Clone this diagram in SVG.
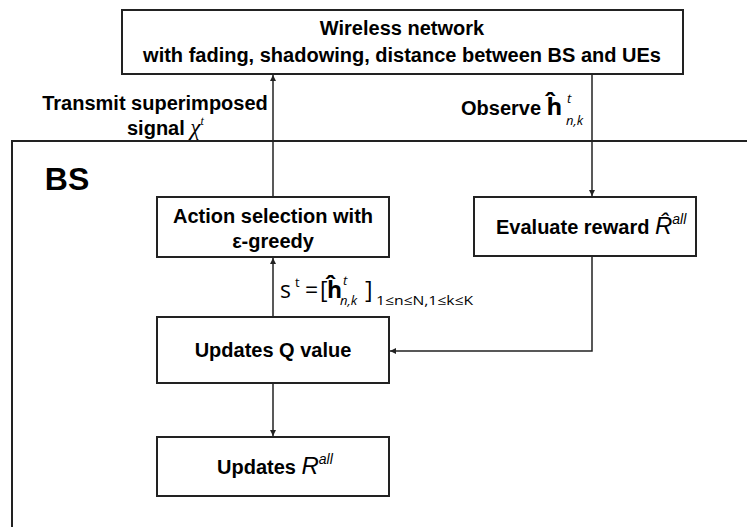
<svg xmlns="http://www.w3.org/2000/svg" width="747" height="527" viewBox="0 0 747 527">
<defs>
<style>
.box{fill:#fff;stroke:#222;stroke-width:2}
.ln{fill:none;stroke:#222;stroke-width:1.5}
.t{font-family:"Liberation Sans",Arial,sans-serif;font-weight:bold;fill:#000;text-anchor:middle}
.ts{font-family:"Liberation Sans",Arial,sans-serif;font-weight:bold;fill:#000;text-anchor:start}
.m{font-family:"Liberation Sans",Arial,sans-serif;font-style:italic;font-weight:normal}
.eq{font-family:"Open Sans","DejaVu Sans",sans-serif;fill:#000}
</style>
<marker id="ah" viewBox="0 0 10 10" refX="10" refY="5" markerWidth="6" markerHeight="6" orient="auto" markerUnits="userSpaceOnUse">
<path d="M0,0 L10,5 L0,10 z" fill="#222"/>
</marker>
</defs>
<rect width="747" height="527" fill="#fff"/>
<g id="bs">
<path d="M12,527 L12,141 L747,141" class="ln" style="stroke-width:2"/>
<text x="67" y="190" class="t" font-size="32">BS</text>
</g>
<g id="connectors">
<line x1="273" y1="197" x2="273" y2="75" class="ln" marker-end="url(#ah)"/>
<line x1="592" y1="74" x2="592" y2="196" class="ln" marker-end="url(#ah)"/>
<polyline points="592,256 592,351 390,351" class="ln" marker-end="url(#ah)"/>
<line x1="273" y1="317" x2="273" y2="258" class="ln" marker-end="url(#ah)"/>
<line x1="273" y1="383" x2="273" y2="436" class="ln" marker-end="url(#ah)"/>
</g>
<g id="labels">
<text x="155" y="110" class="t" font-size="20">Transmit superimposed</text>
<text x="127" y="135" class="ts" font-size="20">signal <tspan font-family="Liberation Serif" font-style="italic" font-weight="normal" font-size="23">χ</tspan><tspan font-family="Liberation Serif" font-style="italic" font-weight="normal" font-size="12" dy="-10">t</tspan></text>
<text x="461" y="115" class="ts" font-size="20">Observe <tspan class="eq" font-weight="bold" font-size="24">ĥ</tspan></text>
<text x="567" y="103" class="eq" font-size="13" font-style="italic">t</text>
<text x="566" y="125" class="eq" font-size="13" font-style="italic">n,k</text>
<text x="280" y="298" class="eq" font-size="23">s</text>
<text x="295" y="287" class="eq" font-size="13">t</text>
<text x="305" y="298" class="eq" font-size="23">=</text>
<text x="320" y="298" class="eq" font-size="23">[</text>
<text x="327" y="298" class="eq" font-size="23" font-weight="bold">ĥ</text>
<text x="343" y="285" class="eq" font-size="13" font-style="italic">t</text>
<text x="340" y="305" class="eq" font-size="13" font-style="italic">n,k</text>
<text x="365" y="298" class="eq" font-size="23">]</text>
<text x="376" y="305" class="eq" font-size="13" textLength="97" lengthAdjust="spacingAndGlyphs">1≤n≤N,1≤k≤K</text>
</g>
<g id="wireless">
<rect x="122" y="10" width="561" height="64" class="box"/>
<text x="402" y="35" class="t" font-size="20">Wireless network</text>
<text x="402" y="62" class="t" font-size="20">with fading, shadowing, distance between BS and UEs</text>
</g>
<g id="action">
<rect x="157" y="197" width="232" height="60" class="box"/>
<text x="273" y="223" class="t" font-size="20">Action selection with</text>
<text x="273" y="248" class="t" font-size="20">ε-greedy</text>
</g>
<g id="evaluate">
<rect x="474" y="197" width="222" height="59" class="box"/>
<text x="496" y="234" class="ts" font-size="20">Evaluate reward <tspan class="m" font-size="24">R̂</tspan><tspan class="m" font-size="14" dy="-10">all</tspan></text>
</g>
<g id="updq">
<rect x="157" y="317" width="232" height="66" class="box"/>
<text x="273" y="357" class="t" font-size="20">Updates Q value</text>
</g>
<g id="updr">
<rect x="157" y="437" width="232" height="59" class="box"/>
<text x="217" y="474" class="ts" font-size="20">Updates <tspan class="m" font-size="24">R</tspan><tspan class="m" font-size="14" dy="-10">all</tspan></text>
</g>
</svg>
